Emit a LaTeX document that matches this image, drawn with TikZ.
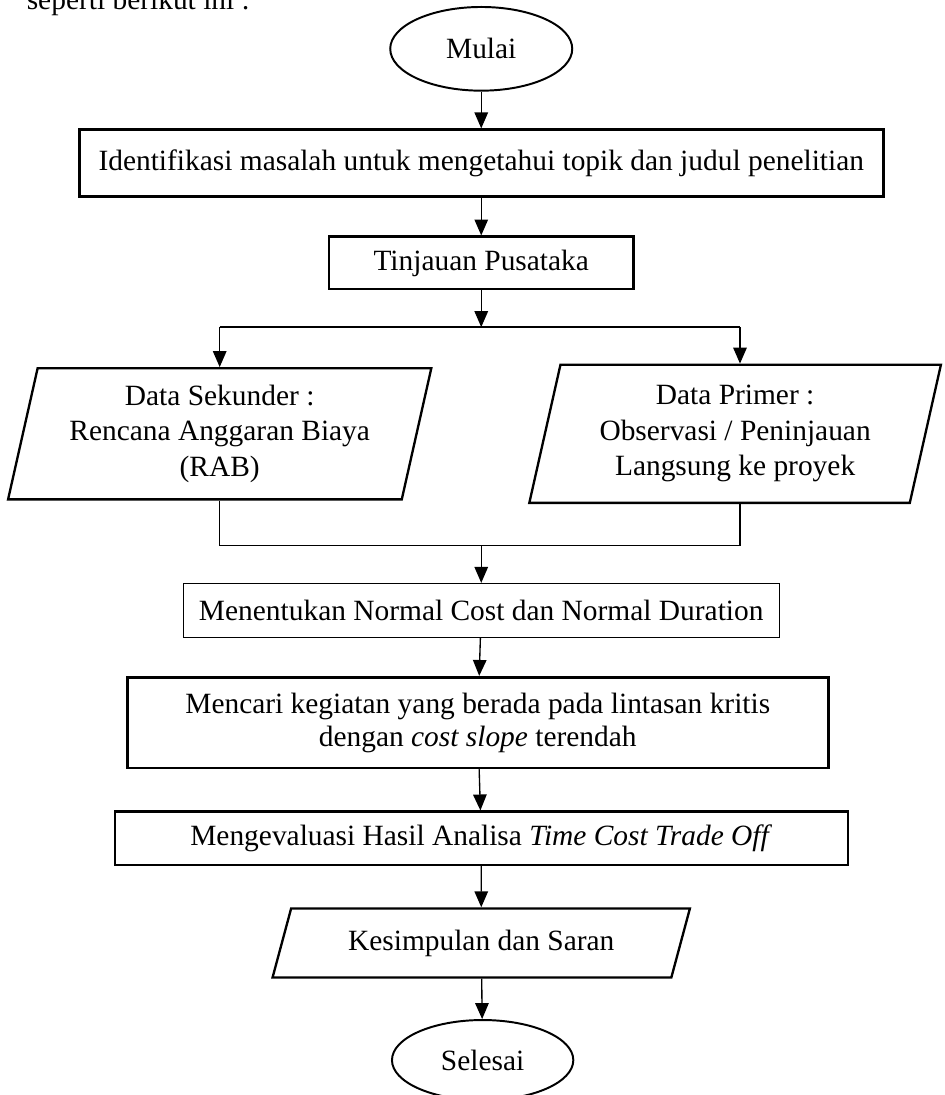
\documentclass[tikz,border=0pt]{standalone}
\usepackage{fontspec}
\setmainfont{Liberation Serif}
\usetikzlibrary{shapes.geometric,arrows.meta}

\tikzset{
	kotak/.style={draw, rectangle, line width=1.1pt, inner sep=0pt},
	kotaktipis/.style={draw, rectangle, line width=0.45pt, inner sep=0pt},
	datamasuk/.style={draw, trapezium, trapezium left angle=76, trapezium right angle=104,
		trapezium stretches=true, line width=0.95pt, inner sep=0pt, align=center},
	terminal/.style={draw, ellipse, line width=0.8pt, inner sep=0pt},
	panah/.style={-{Triangle[length=6.5pt,width=5.5pt]}, line width=0.55pt},
	garis/.style={line width=0.55pt}
}

\begin{document}
\begin{tikzpicture}[font=\fontsize{12}{14.5}\selectfont]
				\useasboundingbox (0,0) rectangle (13.54,-15.70);
				\node[anchor=base west] (pengantar) at (0.26,-0.14) {seperti berikut ini :};
				
				\node[terminal, minimum width=2.61cm, minimum height=1.20cm] (mulai) at (6.90,-0.70) {Mulai};
				\node[kotak, minimum width=11.53cm, minimum height=0.96cm] (identifikasi) at (6.90,-2.34) {Identifikasi masalah untuk mengetahui topik dan judul penelitian};
				\node[kotak, minimum width=4.37cm, minimum height=0.75cm] (tinjauan) at (6.90,-3.77) {Tinjauan Pusataka};
				
				\node[datamasuk, minimum width=6.08cm, minimum height=1.88cm] (sekunder) at (3.15,-6.22) {Data Sekunder :\\Rencana Anggaran Biaya\\(RAB)};
				\node[datamasuk, minimum width=5.91cm, minimum height=1.98cm] (primer) at (10.54,-6.22) {Data Primer :\\Observasi / Peninjauan\\Langsung ke proyek};
				
				\node[kotaktipis, minimum width=8.55cm, minimum height=0.77cm] (normal) at (6.90,-8.75) {Menentukan Normal Cost dan Normal Duration};
				\node[kotak, minimum width=10.05cm, minimum height=1.30cm, align=center, font=\fontsize{12}{13.5}\selectfont] (kritis) at (6.85,-10.36) {Mencari kegiatan yang berada pada lintasan kritis\\dengan \textit{cost slope} terendah};
				\node[kotak, line width=0.85pt, minimum width=10.51cm, minimum height=0.77cm] (evaluasi) at (6.90,-12.02) {Mengevaluasi Hasil Analisa \textit{Time Cost Trade Off}};
				\node[datamasuk, trapezium left angle=64, trapezium right angle=116, minimum width=5.99cm, minimum height=0.99cm] (kesimpulan) at (6.90,-13.52) {Kesimpulan dan Saran};
				\node[terminal, minimum width=2.60cm, minimum height=1.15cm] (selesai) at (6.92,-15.20) {Selesai};
				
				\coordinate (cabang) at (6.90,-4.69);
				\coordinate (cabkiri) at (3.15,-4.69);
				\coordinate (cabkanan) at (10.61,-4.69);
				\coordinate (gabkiri) at (3.15,-7.82);
				\coordinate (gabung) at (6.90,-7.82);
				\coordinate (gabkanan) at (10.61,-7.82);
				
				\draw[panah] (mulai) -- (identifikasi);
				\draw[panah] (identifikasi) -- (tinjauan);
				\draw[panah] (tinjauan) -- (cabang);
				\draw[garis] (cabkiri) -- (cabkanan);
				\draw[panah] (cabkiri) -- (sekunder.north -| cabkiri);
				\draw[panah] (cabkanan) -- (primer.north -| cabkanan);
				
				\draw[garis] (sekunder.south -| gabkiri) -- (gabkiri) -- (gabkanan) -- (primer.south -| gabkanan);
				\draw[panah] (gabung) -- (normal);
				\draw[panah] (normal) -- (kritis);
				\draw[panah] (kritis) -- (evaluasi);
				\draw[panah] (evaluasi) -- (kesimpulan);
				\draw[panah] (kesimpulan) -- (selesai);
\end{tikzpicture}
\end{document}
